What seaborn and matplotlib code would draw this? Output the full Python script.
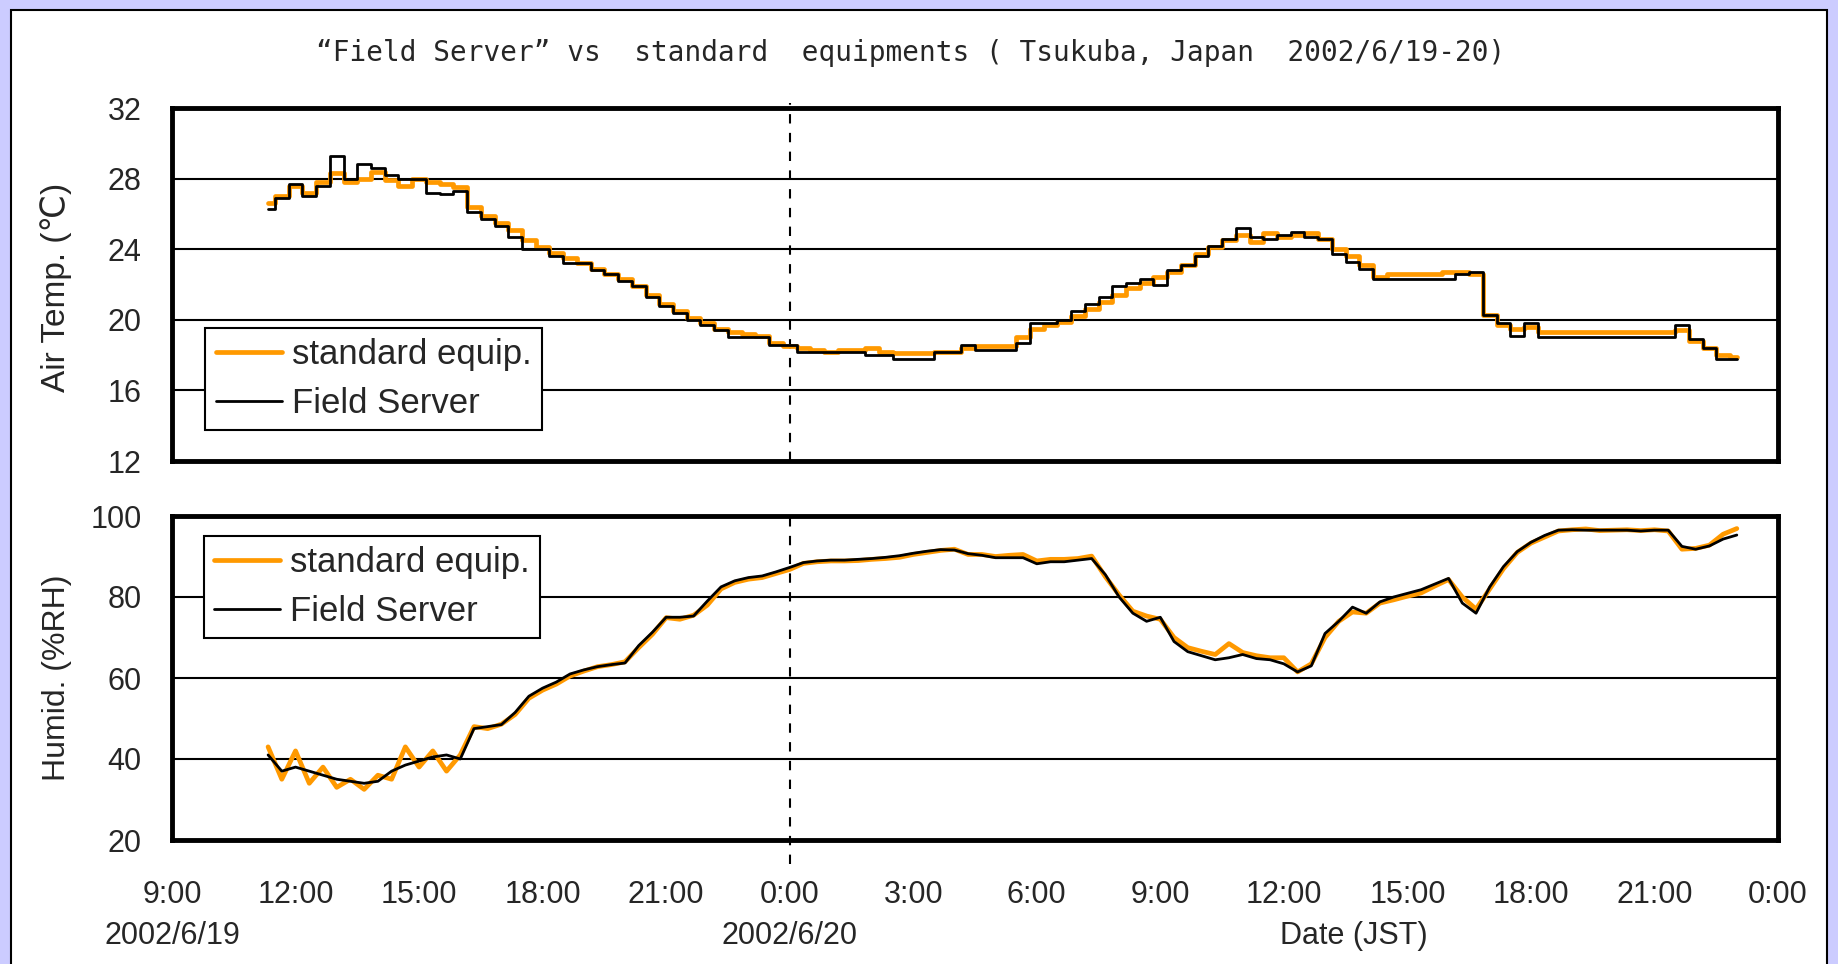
import pandas as pd
import matplotlib
matplotlib.use('Agg')
import matplotlib.pyplot as plt
import matplotlib.transforms as mtransforms
from matplotlib import font_manager
from matplotlib.patches import Rectangle
import seaborn as sns

# 20 minute samples, 2002/6/19 11:20 -> 2002/6/20 23:00
times = pd.date_range('2002-06-19 11:20', periods=108, freq='20min')

# air temperature (C)
temp_std = [26.6, 27.0, 27.6, 27.2, 27.8, 28.3, 27.8, 28.0, 28.4, 27.9, 27.6, 28.0,
            27.8, 27.7, 27.5, 26.4, 25.9, 25.5, 25.1, 24.5, 24.1, 23.8, 23.5, 23.2,
            22.9, 22.6, 22.3, 21.9, 21.4, 20.9, 20.5, 20.1, 19.8, 19.5, 19.3, 19.2,
            19.1, 18.7, 18.5, 18.4, 18.3, 18.2, 18.3, 18.3, 18.4, 18.2, 18.1, 18.1,
            18.1, 18.2, 18.2, 18.4, 18.5, 18.5, 18.5, 19.0, 19.5, 19.7, 19.9, 20.2,
            20.6, 21.0, 21.4, 21.8, 22.1, 22.4, 22.7, 23.1, 23.7, 24.1, 24.5, 24.8,
            24.4, 24.9, 24.7, 24.8, 24.9, 24.6, 24.0, 23.6, 23.1, 22.4, 22.6, 22.6,
            22.6, 22.6, 22.7, 22.7, 22.6, 20.3, 19.7, 19.5, 19.6, 19.3, 19.3, 19.3,
            19.3, 19.3, 19.3, 19.3, 19.3, 19.3, 19.3, 19.4, 18.8, 18.4, 18.0, 17.9]
temp_fs = [26.3, 26.9, 27.7, 27.0, 27.6, 29.3, 28.0, 28.8, 28.6, 28.2, 28.0, 28.0,
           27.2, 27.1, 27.3, 26.1, 25.7, 25.3, 24.7, 24.0, 24.0, 23.6, 23.2, 23.2,
           22.8, 22.6, 22.2, 21.9, 21.3, 20.8, 20.4, 20.0, 19.7, 19.4, 19.0, 19.0,
           19.0, 18.6, 18.6, 18.2, 18.2, 18.2, 18.2, 18.2, 18.0, 18.0, 17.8, 17.8,
           17.8, 18.2, 18.2, 18.6, 18.3, 18.3, 18.3, 18.7, 19.8, 19.8, 20.0, 20.5,
           20.9, 21.3, 21.9, 22.1, 22.3, 22.0, 22.8, 23.1, 23.6, 24.2, 24.6, 25.2,
           24.7, 24.6, 24.8, 25.0, 24.7, 24.6, 23.7, 23.3, 22.9, 22.3, 22.3, 22.3,
           22.3, 22.3, 22.3, 22.6, 22.7, 20.3, 19.8, 19.1, 19.8, 19.0, 19.0, 19.0,
           19.0, 19.0, 19.0, 19.0, 19.0, 19.0, 19.0, 19.7, 18.9, 18.4, 17.8, 17.8]

# relative humidity (%RH)
hum_std = [43, 35, 42, 34, 38, 33, 35, 32.5, 36, 35, 43, 38,
           42, 37, 41, 48, 47.5, 48.6, 51, 55, 57, 58.5, 60.5, 61.7,
           62.8, 63.3, 64, 67.5, 70.8, 74.9, 74.5, 75.5, 78, 82, 83.6, 84.4,
           84.8, 85.8, 86.8, 88.3, 88.7, 88.9, 88.9, 89.0, 89.3, 89.5, 89.8, 90.5,
           91.0, 91.5, 91.8, 90.5, 90.5, 90.0, 90.3, 90.5, 88.9, 89.3, 89.3, 89.5,
           90.1, 85.0, 80.5, 76.5, 75.3, 74.5, 70.0, 67.5, 66.6, 65.8, 68.5, 66.3,
           65.5, 65.0, 65.0, 61.5, 63.5, 70.0, 74.0, 76.3, 76.0, 78.5, 79.3, 80.2,
           81.0, 82.7, 84.3, 80.0, 77.0, 82.0, 87.0, 91.0, 93.3, 94.8, 96.3, 96.6,
           96.8, 96.4, 96.5, 96.6, 96.4, 96.6, 96.3, 91.8, 92.0, 92.8, 95.5, 96.9]
hum_fs = [41, 37, 38, 37, 36, 35, 34.5, 34, 34.5, 37, 38.5, 39.5,
          40.5, 41, 40, 47.5, 48, 48.5, 51.5, 55.5, 57.5, 59, 61, 62,
          62.8, 63.3, 63.7, 68, 71.3, 75, 75, 75.3, 79, 82.5, 84, 84.8,
          85.2, 86.2, 87.3, 88.5, 88.9, 89.1, 89.1, 89.3, 89.5, 89.8, 90.2, 90.8,
          91.3, 91.7, 91.6, 90.7, 90.3, 89.7, 89.7, 89.7, 88.2, 88.7, 88.7, 89.1,
          89.5, 85.5, 80.0, 76.0, 74.0, 75.0, 69.0, 66.5, 65.5, 64.5, 65.0, 65.8,
          64.8, 64.5, 63.5, 61.5, 63.0, 71.0, 74.0, 77.5, 76.0, 78.8, 80.0, 80.9,
          81.8, 83.2, 84.6, 78.5, 76.0, 82.5, 87.5, 91.2, 93.5, 95.2, 96.5, 96.6,
          96.5, 96.5, 96.5, 96.5, 96.3, 96.5, 96.5, 92.5, 91.8, 92.6, 94.3, 95.3]

tick_times = pd.date_range('2002-06-19 09:00', '2002-06-21 00:00', freq='3h')
tick_labels = ['9:00', '12:00', '15:00', '18:00', '21:00', '0:00', '3:00',
               '6:00', '9:00', '12:00', '15:00', '18:00', '21:00', '0:00']
day_marks = [pd.Timestamp('2002-06-19 09:00'), pd.Timestamp('2002-06-20 00:00')]
day_labels = ['2002/6/19', '2002/6/20']
midnight = pd.Timestamp('2002-06-20 00:00')

df = pd.DataFrame({'time': times, 'temp_std': temp_std, 'temp_fs': temp_fs,
                   'hum_std': hum_std, 'hum_fs': hum_fs})

sns.set_style('white')
avail = {f.name for f in font_manager.fontManager.ttflist}
mono = 'DejaVu Sans Mono' if 'DejaVu Sans Mono' in avail else 'Liberation Mono'
plt.rcParams['font.family'] = ['Liberation Sans', 'DejaVu Sans']
fs = 22

ORANGE = '#FF9900'

fig = plt.figure(figsize=(18.38, 9.64), dpi=100)
fig.patch.set_facecolor('#CCCCFF')
fig.add_artist(Rectangle((11 / 1838, -0.02), 1816 / 1838, 1.02 - 10 / 964,
                         transform=fig.transFigure, facecolor='white',
                         edgecolor='black', lw=1.5, zorder=-10))

ax1 = fig.add_axes([172 / 1838, 1 - 461 / 964, 1606 / 1838, 353 / 964])
ax2 = fig.add_axes([172 / 1838, 1 - 840 / 964, 1606 / 1838, 324 / 964])

panels = [(ax1, 'temp_std', 'temp_fs', (12, 32), range(12, 33, 4), (0.1255, 0.232), 'steps-mid'),
          (ax2, 'hum_std', 'hum_fs', (20, 100), range(20, 101, 20), (0.1245, 0.781), 'default')]

for ax, c_std, c_fs, ylim, yticks, legpos, dstyle in panels:
    sns.lineplot(data=df, x='time', y=c_std, ax=ax, color=ORANGE, lw=3.4,
                 drawstyle=dstyle, label='standard equip.')
    sns.lineplot(data=df, x='time', y=c_fs, ax=ax, color='black', lw=2.0,
                 drawstyle=dstyle, label='Field Server')
    ax.set_xlim(tick_times[0], tick_times[-1])
    ax.set_ylim(*ylim)
    ax.set_yticks(list(yticks))
    ax.set_xticks(tick_times)
    ax.set_xlabel('')
    ax.set_ylabel('')
    ax.grid(axis='y', color='black', lw=1.5)
    ax.grid(axis='x', visible=False)
    ax.set_axisbelow(True)
    for sp in ax.spines.values():
        sp.set_visible(True)
        sp.set_color('black')
        sp.set_linewidth(3.5)
    ax.tick_params(axis='y', length=0, pad=22, labelsize=fs)
    ax.tick_params(axis='x', direction='in', length=7, width=1.5, color='black',
                   pad=29, labelsize=fs)
    leg = ax.legend(loc='center', bbox_to_anchor=legpos, frameon=True,
                    fancybox=False, edgecolor='black', framealpha=1,
                    handlelength=1.9, handletextpad=0.3, borderpad=0.3,
                    labelspacing=0.45, fontsize=25)
    leg.get_frame().set_linewidth(1.5)

ax1.tick_params(axis='x', labelbottom=False)
ax2.set_xticklabels(tick_labels)

ax1.axvline(midnight, ymin=0, ymax=1.015, color='black', lw=1.5,
            ls=(0, (4.5, 4.5)), clip_on=False, zorder=1.5)
ax2.axvline(midnight, ymin=-0.075, ymax=1, color='black', lw=1.5,
            ls=(0, (4.5, 4.5)), clip_on=False, zorder=1.5)

trans = mtransforms.blended_transform_factory(ax2.transData, ax2.transAxes)
for d, lab in zip(day_marks, day_labels):
    ax2.text(d, -0.295, lab, transform=trans, ha='center', va='center', fontsize=fs)

fig.text(1354 / 1838, 1 - 936 / 964, 'Date (JST)', ha='center', va='center', fontsize=fs)
fig.text(56 / 1838, 1 - 287 / 964, 'Air Temp. (℃)', rotation=90,
         ha='center', va='center', fontsize=24)
fig.text(57 / 1838, 1 - 678 / 964, 'Humid. (%RH)', rotation=90,
         ha='center', va='center', fontsize=23)
fig.text(911 / 1838, 1 - 53 / 964,
         '“Field Server” vs  standard  equipments ( Tsukuba, Japan  2002/6/19-20)',
         ha='center', va='center', fontsize=20, family=[mono, 'DejaVu Sans'])

fig.savefig('out.png', dpi=100, facecolor=fig.get_facecolor())
